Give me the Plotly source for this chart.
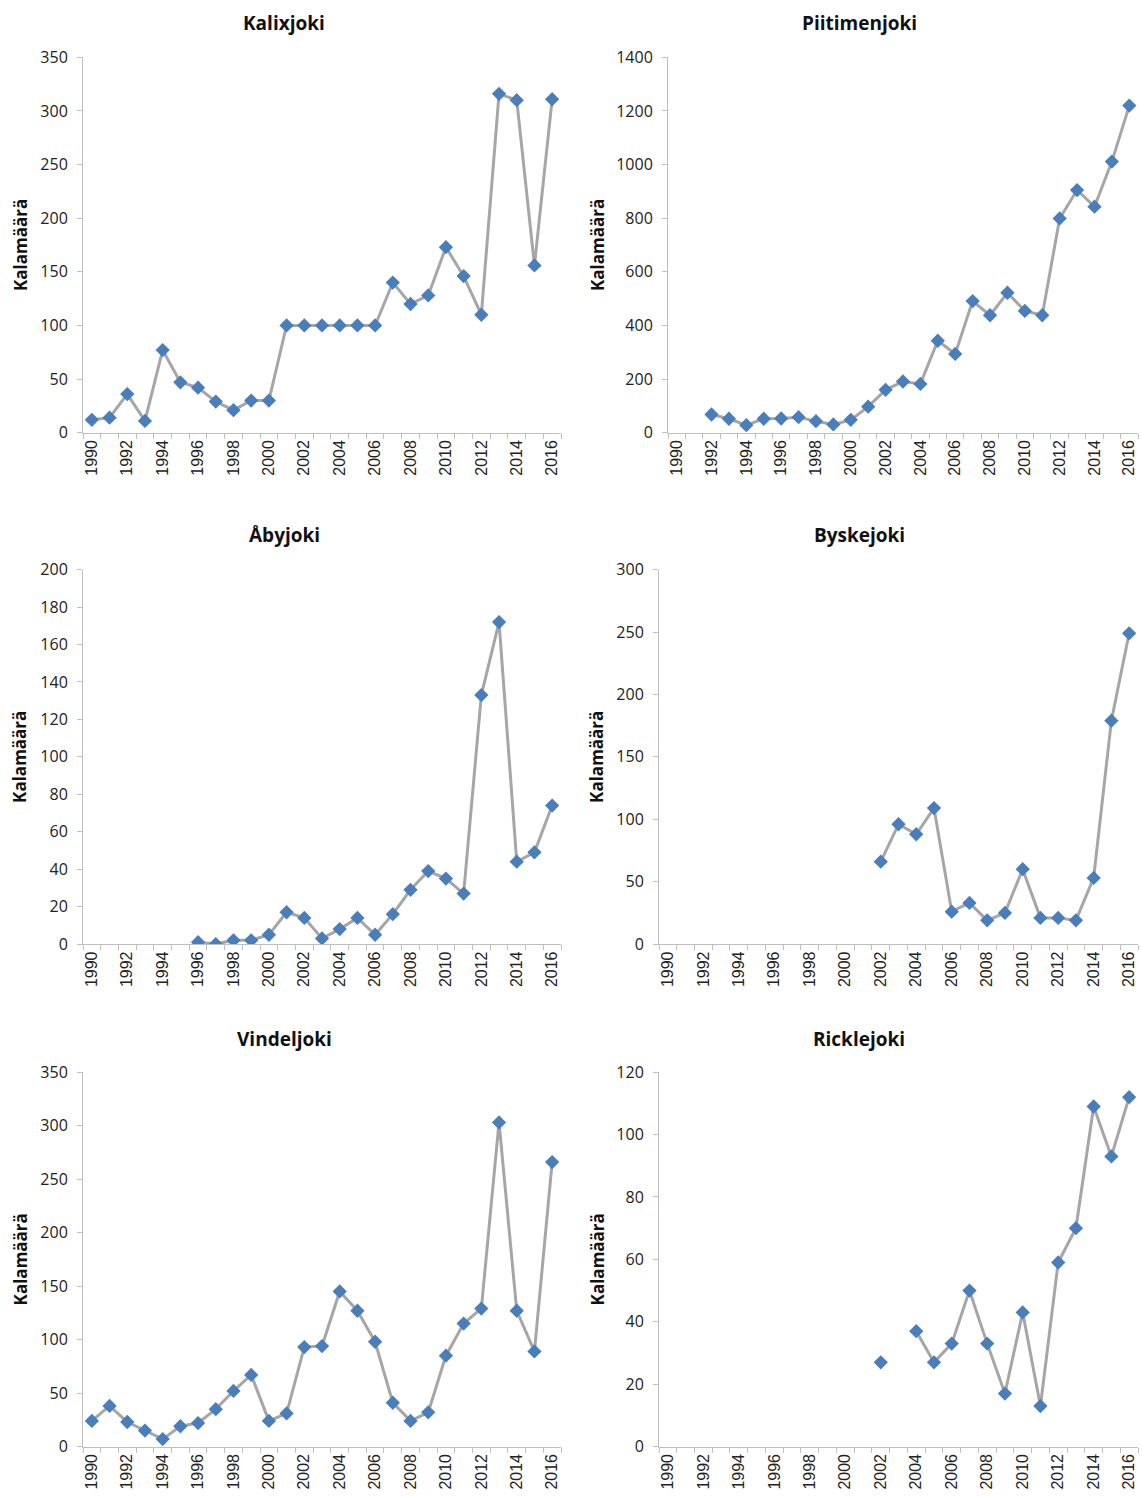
import plotly.graph_objects as go

years = list(range(1990, 2017))
year_ticks = list(range(1990, 2017, 2))

rivers = ["Kalixjoki", "Piitimenjoki", "Åbyjoki", "Byskejoki", "Vindeljoki", "Ricklejoki"]

kalixjoki = [12, 14, 36, 11, 77, 47, 42, 29, 21, 30, 30, 100, 100, 100, 100, 100, 100,
             140, 120, 128, 173, 146, 110, 316, 310, 156, 311]
piitimenjoki = [None, None, 68, 52, 28, 52, 53, 58, 43, 31, 48, 97, 160, 191, 182, 343, 294,
                491, 438, 522, 454, 438, 799, 905, 843, 1011, 1220]
abyjoki = [None, None, None, None, None, None, 1, 0, 2, 2, 5, 17, 14, 3, 8, 14, 5,
           16, 29, 39, 35, 27, 133, 172, 44, 49, 74]
byskejoki = [None] * 12 + [66, 96, 88, 109, 26, 33, 19, 25, 60, 21, 21, 19, 53, 179, 249]
vindeljoki = [24, 38, 23, 15, 7, 19, 22, 35, 52, 67, 24, 31, 93, 94, 145, 127, 98,
              41, 24, 32, 85, 115, 129, 303, 127, 89, 266]
ricklejoki = [None] * 12 + [27, None, 37, 27, 33, 50, 33, 17, 43, 13, 59, 70, 109, 93, 112]

series = [kalixjoki, piitimenjoki, abyjoki, byskejoki, vindeljoki, ricklejoki]
y_max = [350, 1400, 200, 300, 350, 120]
y_step = [50, 200, 20, 50, 50, 20]
y_label = "Kalamäärä"

W, H = 1142, 1497
# pixel boxes: (left, right, top, bottom)
boxes = [
    (83, 561, 47, 428), (668, 1138, 47, 428),
    (83, 561, 567, 947), (659, 1138, 567, 947),
    (83, 561, 1077, 1457), (659, 1138, 1077, 1457),
]
title_pos = [(284, 12), (859, 12), (284, 532), (859, 532), (284, 1043), (859, 1043)]
ytitle_x = [20, 597, 20, 597, 20, 597]

AX = "#BFBFBF"
LINE = "#A6A6A6"
BLUE = "#4A7EBB"

fig = go.Figure()
annotations = []
layout = {}
for i, (name, vals) in enumerate(zip(rivers, series)):
    n = "" if i == 0 else str(i + 1)
    l, r, t, b = boxes[i]
    fig.add_trace(go.Scatter(
        x=years, y=vals, mode="lines+markers",
        line=dict(color=LINE, width=3),
        marker=dict(symbol="diamond", size=11, color=BLUE),
        connectgaps=False, showlegend=False,
        xaxis="x" + n, yaxis="y" + n,
    ))
    layout["xaxis" + n] = dict(
        domain=[l / W, r / W], anchor="y" + n,
        range=[1989.5, 2016.5], tickvals=year_ticks, ticktext=[str(v) for v in year_ticks],
        tickangle=-90, ticks="", showgrid=False, zeroline=False,
        showline=True, linecolor=AX, linewidth=1,
        tickfont=dict(family="Liberation Sans, Arial", size=16, color="#222222"),
        minor=dict(ticks="outside", tick0=1989.5, dtick=1, ticklen=5, tickcolor=AX, showgrid=False),
    )
    layout["yaxis" + n] = dict(
        domain=[1 - b / H, 1 - t / H], anchor="x" + n,
        range=[0, y_max[i]], dtick=y_step[i], tick0=0,
        ticks="outside", ticklen=5, tickcolor=AX, showgrid=False, zeroline=False,
        showline=True, linecolor=AX, linewidth=1, ticklabelstandoff=6,
        tickfont=dict(family="Open Sans", size=16, color="#222222"),
    )
    tx, ty = title_pos[i]
    annotations.append(dict(
        text="<b>" + name + "</b>", x=tx / W, y=1 - ty / H, xref="paper", yref="paper",
        xanchor="center", yanchor="middle", showarrow=False,
        font=dict(family="Open Sans", size=19, color="#111111"),
    ))
    annotations.append(dict(
        text="<b>" + y_label + "</b>", x=ytitle_x[i] / W, y=1 - ((t + b) / 2) / H,
        xref="paper", yref="paper", xanchor="center", yanchor="middle",
        textangle=-90, showarrow=False,
        font=dict(family="Open Sans", size=17, color="#111111"),
    ))

fig.update_layout(
    width=W, height=H, margin=dict(l=0, r=0, t=0, b=0),
    paper_bgcolor="white", plot_bgcolor="white",
    annotations=annotations, **layout,
)
fig.write_html("out.html")
